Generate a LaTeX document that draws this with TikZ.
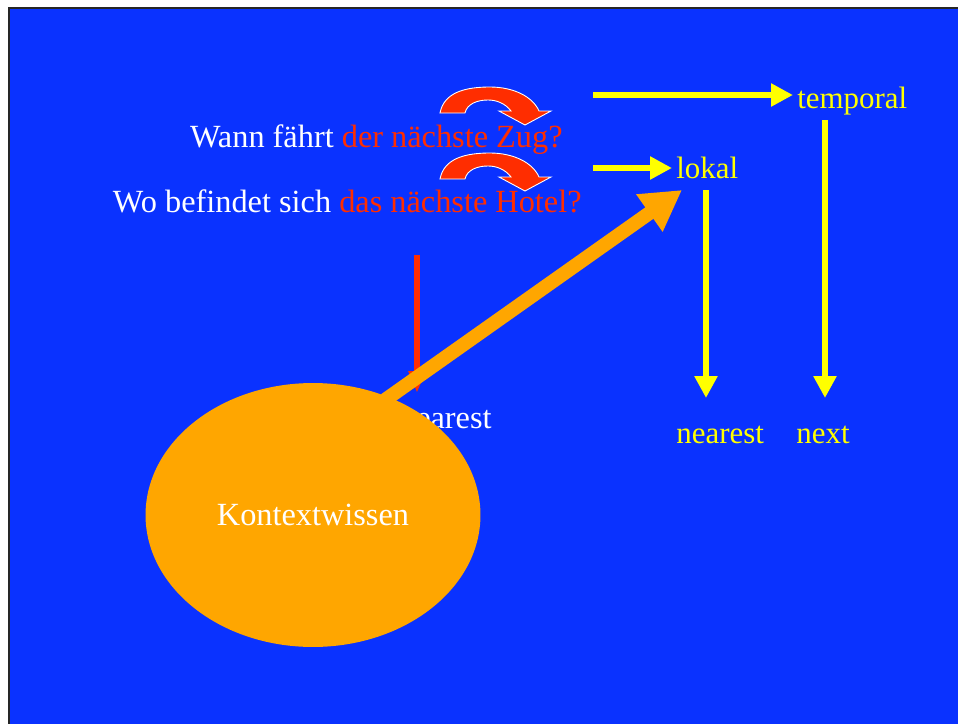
\documentclass[tikz,border=0pt]{standalone}
\usepackage{fontspec}
\setmainfont{Liberation Serif}
\usetikzlibrary{arrows.meta,shapes.geometric}
\definecolor{slideblue}{RGB}{10,50,255}
\definecolor{hotred}{RGB}{255,45,0}
\definecolor{ctxorange}{RGB}{255,166,0}
\definecolor{signyellow}{RGB}{255,255,0}
\tikzset{
  slidetext/.style={font=\fontsize{17.6}{20}\selectfont, inner sep=0pt},
  bigtext/.style={font=\fontsize{18.4}{21}\selectfont, inner sep=0pt},
  yarrow/.style={signyellow, line width=0.12cm, -{Triangle[length=0.44cm,width=0.44cm]}},
  rarrow/.style={hotred, line width=0.12cm, -{Triangle[length=0.44cm,width=0.32cm]}},
  oarrow/.style={ctxorange, line width=0.28cm, -{Triangle[length=0.8cm,width=0.86cm]}},
  ctxball/.style={ellipse, fill=ctxorange, text=white, minimum width=6.7cm, minimum height=5.28cm, inner sep=0pt, bigtext}
}
\begin{document}
\begin{tikzpicture}[x=0.02cm, y=-0.02cm]
    \useasboundingbox (0,0) rectangle (958,724);
    \fill[white] (0,0) rectangle (958,724);
    \fill[slideblue] (9,8) rectangle (958,724);
    \draw[black!85, line width=1.5pt] (9,724) -- (9,8) -- (958,8);
    % the two questions
    \node[bigtext, anchor=base east, text=white] (zug) at (563,147) {Wann fährt \textcolor{hotred}{der nächste Zug?}};
    \node[bigtext, anchor=base east, text=white] (hotel) at (582,212) {Wo befindet sich \textcolor{hotred}{das nächste Hotel?}};
    % curved arrows over the questions
    \foreach \dy in {0,66} {
        \filldraw[fill=hotred, draw=white, line width=0.5pt, shift={(0,\dy)}]
            (440,113) .. controls (444,92) and (466,87) .. (490,87)
            .. controls (514,87) and (533,97) .. (539,111) -- (551,111) -- (525,125) -- (499,111) -- (511,111)
            .. controls (505,103) and (496,100) .. (488,100)
            .. controls (477,100) and (467,104) .. (465,113) -- cycle;
    }
    % readings
    \node[slidetext, anchor=base west, text=signyellow] (temporal) at (797,108) {temporal};
    \node[slidetext, anchor=base west, text=signyellow] (lokal) at (676,178) {lokal};
    \node[slidetext, anchor=base west, text=signyellow] (nearest) at (676,443) {nearest};
    \node[slidetext, anchor=base west, text=signyellow] (next) at (796,443) {next};
    \coordinate (tstart) at (593,95);
    \coordinate (ttip) at (793,95);
    \coordinate (lstart) at (593,168);
    \coordinate (ltip) at (672,168);
    \coordinate (tdown) at (825,120);
    \coordinate (ldown) at (706,190);
    \coordinate (nexttip) at (825,398);
    \coordinate (neartip) at (706,398);
    \draw[yarrow] (tstart) -- (ttip);
    \draw[yarrow] (lstart) -- (ltip);
    \draw[yarrow] (tdown) -- (nexttip);
    \draw[yarrow] (ldown) -- (neartip);
    % red arrow and the word it points to
    \coordinate (rstart) at (417,255);
    \coordinate (rtip) at (417,393);
    \draw[rarrow] (rstart) -- (rtip);
    \node[bigtext, anchor=base east, text=white] (whitenear) at (492,428) {nearest};
    % context knowledge
    \node[ctxball] (ctx) at (313,515) {Kontextwissen};
    \coordinate (ostart) at (385,400);
    \coordinate (otip) at (682,190);
    \draw[oarrow] (ostart) -- (otip);
\end{tikzpicture}
\end{document}
